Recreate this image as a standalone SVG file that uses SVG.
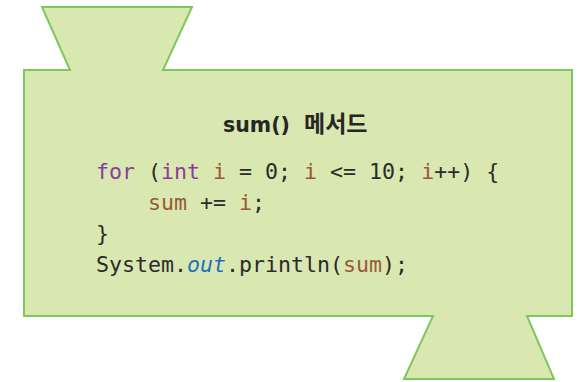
<svg xmlns="http://www.w3.org/2000/svg" width="580" height="382" viewBox="0 0 580 382">
  <style>
    .frame { fill: #d9e7b0; stroke: #7cc85c; stroke-width: 2; stroke-linejoin: miter; }
    .title { font-family: "DejaVu Sans", "Noto Sans CJK KR", sans-serif; font-weight: bold; font-size: 20.5px; fill: #262626; }
    .ko { font-family: "Noto Sans CJK KR", sans-serif; font-size: 23px; }
    .code { font-family: "DejaVu Sans Mono", "Liberation Mono", monospace; font-size: 21.6px; fill: #2b2b2b; white-space: pre; }
    .kw { fill: #8a3d9c; }
    .var { fill: #985a36; }
    .fld { fill: #1f6fc6; font-style: italic; }
  </style>

  <!-- Method block: body with an input notch on top and an output tab below -->
  <g id="method-block">
    <path class="frame" d="M42,7 L192,7 L163,70 L572,70 L572,316 L527,316 L554,379 L404,379 L433,316 L24,316 L24,70 L70,70 Z"/>
    <text class="title" x="223" y="132">sum() <tspan class="ko" x="304">메서드</tspan></text>
    <text class="code" x="96" y="179" xml:space="preserve"><tspan class="kw">for</tspan> (<tspan class="kw">int</tspan> <tspan class="var">i</tspan> = 0; <tspan class="var">i</tspan> &lt;= 10; <tspan class="var">i</tspan>++) {</text>
    <text class="code" x="96" y="210" xml:space="preserve">    <tspan class="var">sum</tspan> += <tspan class="var">i</tspan>;</text>
    <text class="code" x="96" y="241">}</text>
    <text class="code" x="96" y="272">System.<tspan class="fld">out</tspan>.println(<tspan class="var">sum</tspan>);</text>
  </g>

  <g id="connectors"></g>
</svg>
